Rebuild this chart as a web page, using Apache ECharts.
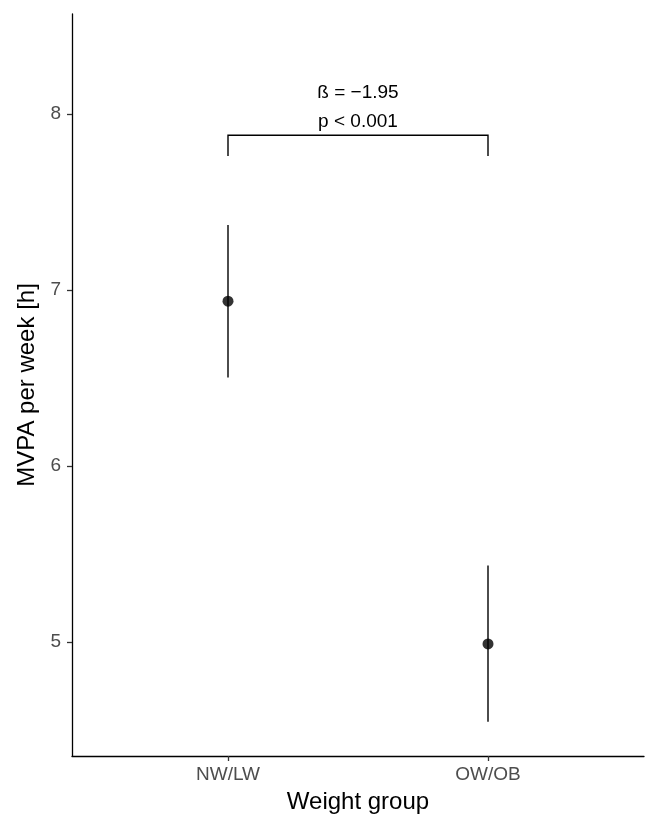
<!DOCTYPE html>
<html>
<head>
<meta charset="utf-8">
<script src="https://cdn.jsdelivr.net/npm/echarts@6/dist/echarts.min.js"></script>
<style>
  html, body { margin: 0; padding: 0; background: #fff; }
  #chart { width: 669px; height: 829px; }
</style>
</head>
<body>
<div id="chart"></div>
<script>
// group labels and their positions on the x scale
const groups = ['NW/LW', 'OW/OB']
const groupPos = [1, 2]

// estimated marginal means with 95% CI (hours per week)
const means = [6.936, 4.989]
const upper = [7.369, 5.434]
const lower = [6.502, 4.547]

const yTicks = [5, 6, 7, 8]

// significance bracket between the two groups
const bracketTop = 7.879
const bracketEnd = 7.761
const annotation = ['ß = −1.95', 'p < 0.001']
const annotationY = [8.121, 7.956]

const FONT = '"Liberation Sans", Arial, sans-serif'

const chart = echarts.init(document.getElementById('chart'))

const option = {
  animation: false,
  backgroundColor: '#ffffff',
  textStyle: { fontFamily: FONT },
  grid: { left: 72, right: 25, top: 14, bottom: 73 },
  xAxis: {
    type: 'value',
    min: 0.4,
    max: 2.6,
    name: 'Weight group',
    nameLocation: 'middle',
    nameGap: 34,
    nameTextStyle: { fontSize: 24, color: '#000', fontFamily: FONT },
    splitLine: { show: false },
    axisLine: { show: true, onZero: false, lineStyle: { color: '#000', width: 1.3 } },
    axisTick: {
      show: true,
      customValues: groupPos,
      length: 5,
      lineStyle: { color: '#333', width: 1.3 }
    },
    axisLabel: {
      customValues: groupPos,
      margin: 9,
      fontSize: 19,
      color: '#4d4d4d',
      fontFamily: FONT,
      formatter: (v) => groups[Math.round(v) - 1] || ''
    }
  },
  yAxis: {
    type: 'value',
    min: 4.352,
    max: 8.568,
    name: 'MVPA per week [h]',
    nameLocation: 'middle',
    nameGap: 30,
    nameTextStyle: { fontSize: 24, color: '#000', fontFamily: FONT },
    splitLine: { show: false },
    axisLine: { show: true, onZero: false, lineStyle: { color: '#000', width: 1.3 } },
    axisTick: {
      show: true,
      customValues: yTicks,
      length: 5,
      lineStyle: { color: '#333', width: 1.3 }
    },
    axisLabel: {
      customValues: yTicks,
      margin: 11,
      fontSize: 19,
      color: '#4d4d4d',
      fontFamily: FONT,
      formatter: (v) => String(v)
    }
  },
  series: [
    // confidence interval whiskers
    {
      type: 'custom',
      data: groupPos.map((x, i) => [x, lower[i], upper[i]]),
      renderItem: (params, api) => {
        const p1 = api.coord([api.value(0), api.value(1)])
        const p2 = api.coord([api.value(0), api.value(2)])
        return {
          type: 'line',
          shape: { x1: p1[0], y1: p1[1], x2: p2[0], y2: p2[1] },
          style: { stroke: '#000', lineWidth: 1.4 }
        }
      },
      z: 2
    },
    // means
    {
      type: 'scatter',
      data: groupPos.map((x, i) => [x, means[i]]),
      symbol: 'circle',
      symbolSize: 11,
      itemStyle: { color: '#000' },
      z: 3
    },
    // bracket
    {
      type: 'custom',
      data: [[groupPos[0], groupPos[1], bracketTop, bracketEnd]],
      renderItem: (params, api) => {
        const a = api.coord([api.value(0), api.value(3)])
        const b = api.coord([api.value(0), api.value(2)])
        const c = api.coord([api.value(1), api.value(2)])
        const d = api.coord([api.value(1), api.value(3)])
        return {
          type: 'polyline',
          shape: { points: [a, b, c, d] },
          style: { stroke: '#000', lineWidth: 1.4, fill: null }
        }
      }
    },
    // annotation text
    {
      type: 'custom',
      data: annotation.map((t, i) => [(groupPos[0] + groupPos[1]) / 2, annotationY[i]]),
      renderItem: (params, api) => {
        const p = api.coord([api.value(0), api.value(1)])
        return {
          type: 'text',
          x: p[0],
          y: p[1],
          style: {
            text: annotation[params.dataIndex],
            fill: '#000',
            font: '19px ' + FONT,
            align: 'center',
            verticalAlign: 'middle'
          }
        }
      }
    }
  ]
}

chart.setOption(option)
</script>
</body>
</html>
